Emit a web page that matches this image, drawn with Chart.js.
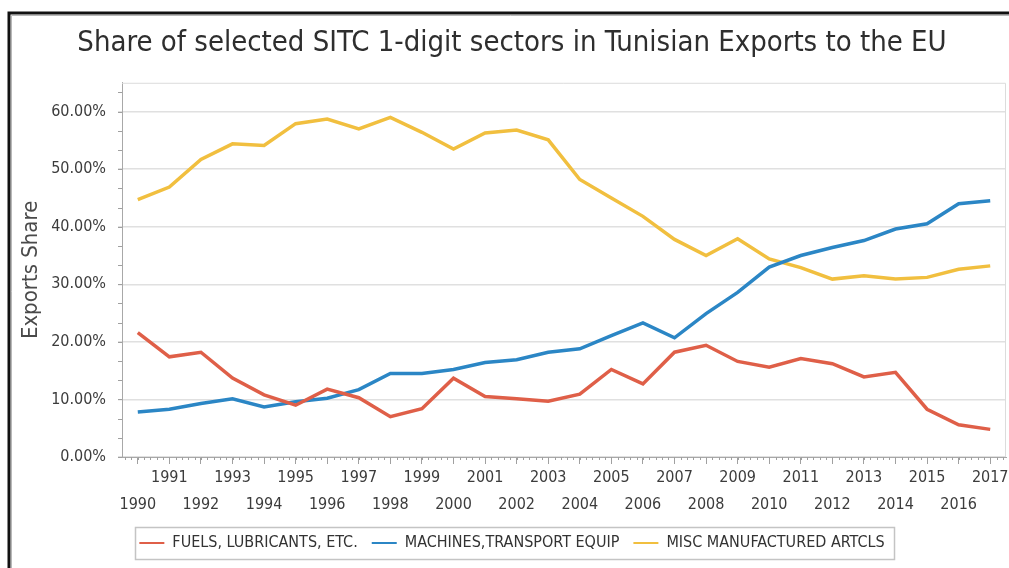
<!DOCTYPE html>
<html>
<head>
<meta charset="utf-8">
<title>Share of selected SITC 1-digit sectors in Tunisian Exports to the EU</title>
<script src="https://cdn.jsdelivr.net/npm/chart.js@4/dist/chart.umd.min.js"></script>
<style>
  html, body { margin: 0; padding: 0; background: #fff; }
  #wrap { position: absolute; left: 0; top: 0; width: 1009px; height: 568px; }
</style>
</head>
<body>
<div id="wrap"><canvas id="chart"></canvas></div>
<script>
// Years on the category axis
const years = [1990, 1991, 1992, 1993, 1994, 1995, 1996, 1997, 1998, 1999,
  2000, 2001, 2002, 2003, 2004, 2005, 2006, 2007, 2008, 2009,
  2010, 2011, 2012, 2013, 2014, 2015, 2016, 2017];

// Export shares in percent
const fuels = [21.6, 17.4, 18.2, 13.7, 10.8, 9.0, 11.8, 10.3, 7.0, 8.4,
  13.7, 10.5, 10.1, 9.7, 10.9, 15.2, 12.7, 18.2, 19.4, 16.6,
  15.6, 17.1, 16.2, 13.9, 14.7, 8.3, 5.6, 4.8];
const machines = [7.8, 8.3, 9.3, 10.1, 8.7, 9.6, 10.2, 11.7, 14.5, 14.5,
  15.2, 16.4, 16.9, 18.2, 18.8, 21.1, 23.3, 20.7, 24.9, 28.6,
  33.0, 35.0, 36.4, 37.6, 39.6, 40.5, 44.0, 44.5];
const misc = [44.7, 46.9, 51.7, 54.4, 54.1, 57.9, 58.7, 57.0, 59.0, 56.4,
  53.5, 56.3, 56.8, 55.1, 48.2, 45.0, 41.8, 37.8, 35.0, 37.9,
  34.4, 32.9, 30.9, 31.5, 30.9, 31.2, 32.6, 33.2];

const seriesNames = ['FUELS, LUBRICANTS, ETC.', 'MACHINES,TRANSPORT EQUIP', 'MISC MANUFACTURED ARTCLS'];
const seriesColors = ['#df5f48', '#2b86c5', '#f1bf3f'];
const yTicks = [0, 10, 20, 30, 40, 50, 60];

const FONT = '"Liberation Sans Narrow", "DejaVu Sans Condensed", sans-serif';
const TEXT = '#3c3c3c';

// frame round the whole picture, plot box, minor ticks, legend border
const decor = {
  id: 'decor',
  beforeDraw(chart) {
    const ctx = chart.ctx;
    ctx.save();
    ctx.fillStyle = '#fff';
    ctx.fillRect(0, 0, chart.width, chart.height);
    ctx.strokeStyle = '#b8b8b8';
    ctx.lineWidth = 1;
    ctx.beginPath();
    ctx.moveTo(11.5, chart.height); ctx.lineTo(11.5, 15.5); ctx.lineTo(chart.width, 15.5);
    ctx.stroke();
    ctx.strokeStyle = '#111';
    ctx.lineWidth = 3;
    ctx.beginPath();
    ctx.moveTo(9, chart.height); ctx.lineTo(9, 13); ctx.lineTo(chart.width, 13);
    ctx.stroke();
    ctx.restore();
  },
  beforeDatasetsDraw(chart) {
    const ctx = chart.ctx, a = chart.chartArea;
    const x = chart.scales.x, y = chart.scales.y;
    ctx.save();
    ctx.strokeStyle = '#dcdcdc';
    ctx.lineWidth = 1;
    ctx.beginPath();
    ctx.moveTo(a.left, a.top + 0.5); ctx.lineTo(a.right - 0.5, a.top + 0.5); ctx.lineTo(a.right - 0.5, a.bottom);
    ctx.stroke();
    // minor ticks
    ctx.strokeStyle = '#a0a0a0';
    ctx.beginPath();
    const step = x.getPixelForValue(1) - x.getPixelForValue(0);
    for (let px = x.getPixelForValue(0) - step; px <= a.right; px += step / 5) {
      if (px < a.left) continue;
      const xx = Math.round(px) + 0.5;
      ctx.moveTo(xx, a.bottom); ctx.lineTo(xx, a.bottom + 3);
    }
    for (let v = 0; v <= 65; v += 10 / 3) {
      const yy = Math.round(y.getPixelForValue(v)) + 0.5;
      ctx.moveTo(a.left - 4, yy); ctx.lineTo(a.left, yy);
    }
    ctx.stroke();
    ctx.restore();
  },
  afterDraw(chart) {
    const lg = chart.legend;
    if (!lg || !lg.legendHitBoxes.length) return;
    const boxes = lg.legendHitBoxes;
    const l = boxes[0].left - 4, r = boxes[boxes.length - 1].left + boxes[boxes.length - 1].width + 10;
    const t = boxes[0].top - 8, b = boxes[0].top + boxes[0].height + 8;
    const ctx = chart.ctx;
    ctx.save();
    ctx.strokeStyle = '#c4c4c4';
    ctx.lineWidth = 1.5;
    ctx.strokeRect(Math.round(l) + 0.5, Math.round(t) + 0.5, Math.round(r - l), Math.round(b - t));
    ctx.restore();
  }
};

const datasets = [fuels, machines, misc].map((vals, i) => ({
  label: seriesNames[i],
  data: vals,
  borderColor: seriesColors[i],
  backgroundColor: seriesColors[i],
  borderWidth: 3.5,
  pointRadius: 0,
  tension: 0,
  fill: false
}));

new Chart(document.getElementById('chart'), {
  type: 'line',
  data: { labels: years, datasets: datasets },
  plugins: [decor],
  options: {
    responsive: true,
    maintainAspectRatio: false,
    animation: false,
    layout: { padding: { left: 18, right: 3, top: 26, bottom: 7 } },
    scales: {
      x: {
        offset: true,
        border: { color: '#a8a8a8' },
        grid: { display: true, drawOnChartArea: false, tickLength: 7, color: '#a0a0a0' },
        ticks: {
          autoSkip: false,
          maxRotation: 0,
          color: TEXT,
          font: { family: FONT, size: 16, lineHeight: 1.7 },
          padding: 0,
          // odd years on the upper row, even years on the lower row
          callback: (v, i) => (years[i] % 2 ? [String(years[i]), ''] : ['', String(years[i])])
        },
        afterFit: (s) => { s.height = 64; s.paddingRight = 0; s.paddingLeft = 0; }
      },
      y: {
        min: 0,
        max: 65,
        border: { color: '#a8a8a8' },
        grid: { color: '#e0e0e0', tickLength: 4, lineWidth: 1.5 },
        afterBuildTicks: (s) => { s.ticks = yTicks.map(v => ({ value: v })); },
        ticks: {
          color: TEXT,
          font: { family: FONT, size: 16 },
          padding: 12,
          callback: (v) => v.toFixed(2) + '%'
        },
        title: {
          display: true,
          text: 'Exports Share',
          color: '#4a4a4a',
          font: { family: FONT, size: 22 },
          padding: { top: 0, bottom: 4 }
        },
        afterFit: (s) => { s.width = 104; }
      }
    },
    plugins: {
      title: {
        display: true,
        text: 'Share of selected SITC 1-digit sectors in Tunisian Exports to the EU',
        color: '#2e2e2e',
        font: { family: FONT, size: 29, weight: 'normal' },
        padding: { top: 0, bottom: 22 }
      },
      legend: {
        position: 'bottom',
        labels: {
          color: '#333',
          font: { family: FONT, size: 16 },
          boxWidth: 25,
          boxHeight: 2,
          padding: 14,
          generateLabels: (chart) => Chart.defaults.plugins.legend.labels.generateLabels(chart)
            .map(l => Object.assign(l, { lineWidth: 0 }))
        }
      },
      tooltip: { enabled: false }
    }
  }
});
</script>
</body>
</html>
